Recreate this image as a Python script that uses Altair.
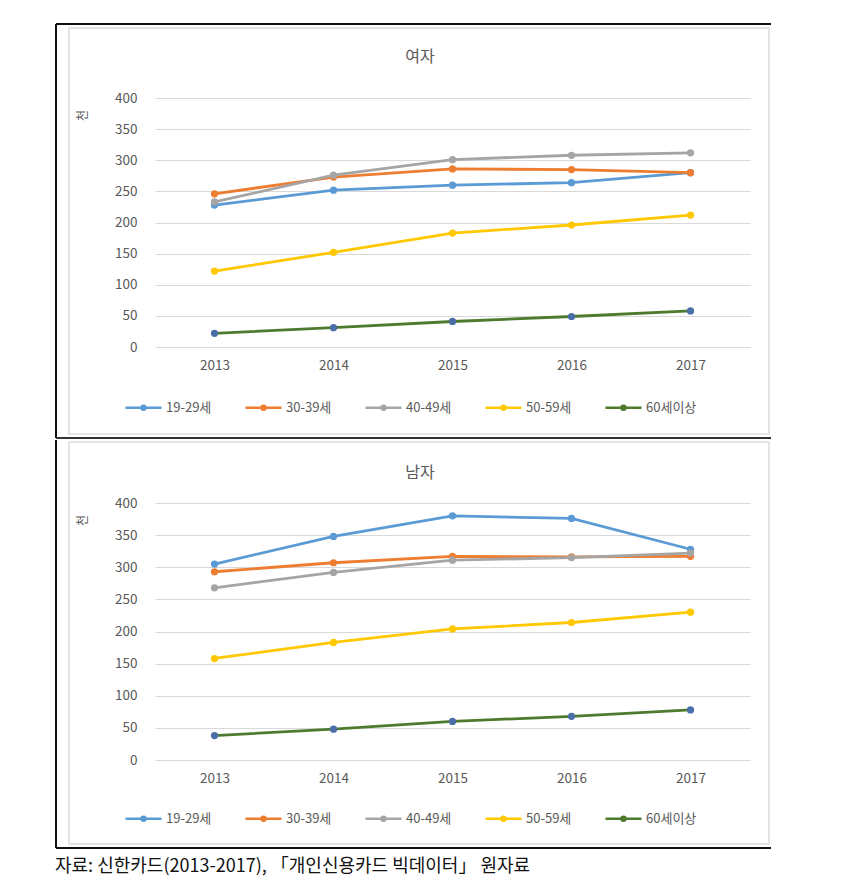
import altair as alt
import pandas as pd

years = ["2013", "2014", "2015", "2016", "2017"]
groups = ["19-29세", "30-39세", "40-49세", "50-59세", "60세이상"]

# 여자 (천)
female_19_29 = [228, 252, 260, 264, 280]
female_30_39 = [246, 273, 286, 285, 280]
female_40_49 = [233, 276, 301, 308, 312]
female_50_59 = [122, 152, 183, 196, 212]
female_60p = [22, 31, 41, 49, 58]

# 남자 (천)
male_19_29 = [305, 348, 380, 376, 328]
male_30_39 = [293, 307, 317, 316, 317]
male_40_49 = [268, 292, 311, 315, 322]
male_50_59 = [158, 183, 204, 214, 230]
male_60p = [38, 48, 60, 68, 78]

y_ticks = [0, 50, 100, 150, 200, 250, 300, 350, 400]
line_colors = ["#5B9BD5", "#ED7D31", "#A5A5A5", "#FFC800", "#4E7A2E"]
marker_colors = ["#5B9BD5", "#ED7D31", "#A5A5A5", "#FFC800", "#4A6EA8"]

FONT = "Noto Sans CJK KR"
GREY = "#595959"
LEGEND_PATH = "M-1,0H1M-0.11,0A0.11,0.11,0,1,0,0.11,0A0.11,0.11,0,1,0,-0.11,0Z"


def make_df(series_list):
    rows = []
    for g, vals in zip(groups, series_list):
        for yr, v in zip(years, vals):
            rows.append({"year": yr, "group": g, "value": v})
    return pd.DataFrame(rows)


df_f = make_df([female_19_29, female_30_39, female_40_49, female_50_59, female_60p])
df_m = make_df([male_19_29, male_30_39, male_40_49, male_50_59, male_60p])
one = pd.DataFrame({"a": [0]})


def legend(ly):
    return alt.Legend(
        orient="none", legendX=-31, legendY=ly, direction="horizontal", title=None,
        symbolType=LEGEND_PATH, symbolSize=1296, symbolStrokeWidth=2.5,
        labelFont=FONT, labelFontSize=13, labelColor=GREY, labelOffset=3,
        columnPadding=28,
    )


def rule(x1, x2, y1, y2, color, w):
    enc = {"x": alt.value(x1), "y": alt.value(y1)}
    if x2 is not None:
        enc["x2"] = alt.value(x2)
    if y2 is not None:
        enc["y2"] = alt.value(y2)
    return alt.Chart(one).mark_rule(color=color, strokeWidth=w).encode(**enc)


def panel(df, title, h, title_y, legend_y, frame_layers):
    x = alt.X("year:O", sort=years, scale=alt.Scale(type="point", padding=0.5),
              axis=alt.Axis(title=None, labelAngle=0, domain=False, ticks=False, grid=False,
                            labelPadding=11, labelFontSize=13.5, labelColor=GREY, labelFont=FONT))
    y = alt.Y("value:Q", scale=alt.Scale(domain=[0, 400], nice=False),
              axis=alt.Axis(values=y_ticks, title="천", titleX=-73, titleY=17,
                            titleFont=FONT, titleFontSize=12, titleColor=GREY,
                            titleFontWeight="normal", titleAlign="center", titleBaseline="middle",
                            domain=False, ticks=False, labelPadding=18, labelFontSize=13.5,
                            labelColor=GREY, labelFont=FONT, gridColor="#D9D9D9", gridWidth=1))
    lines = alt.Chart(df).mark_line(strokeWidth=2.8).encode(
        x=x, y=y,
        stroke=alt.Stroke("group:N", sort=groups,
                          scale=alt.Scale(domain=groups, range=line_colors), legend=legend(legend_y)),
    )
    points = alt.Chart(df).mark_circle(size=52, opacity=1).encode(
        x=x, y=y,
        fill=alt.Fill("group:N", sort=groups,
                      scale=alt.Scale(domain=groups, range=marker_colors), legend=legend(legend_y)),
    )
    ttl = alt.Chart(one).mark_text(text=title, font=FONT, fontSize=16, color=GREY,
                                   align="center", baseline="middle").encode(
        x=alt.value(265), y=alt.value(title_y))
    return alt.layer(*frame_layers, lines, points, ttl).properties(width=595, height=h)


frame1 = [
    alt.Chart(one).mark_rect(fill="transparent", stroke="#DCDCDC", strokeWidth=1.5).encode(
        x=alt.value(-86), x2=alt.value(614), y=alt.value(-70), y2=alt.value(336)),
    rule(-99, 616, -74, None, "#111111", 2),
    rule(-99, None, -74, 340, "#111111", 2),
    rule(-99, 616, 340, None, "#333333", 2),
]
frame2 = [
    alt.Chart(one).mark_rect(fill="transparent", stroke="#DCDCDC", strokeWidth=1.5).encode(
        x=alt.value(-86), x2=alt.value(614), y=alt.value(-61), y2=alt.value(341)),
    rule(-99, None, -63, 345, "#111111", 2),
    rule(-99, 616, 345, None, "#111111", 2),
    alt.Chart(one).mark_text(text="자료: 신한카드(2013-2017), 「개인신용카드 빅데이터」 원자료",
                             font=FONT, fontSize=18, color="#111111",
                             align="left", baseline="middle").encode(
        x=alt.value(-100), y=alt.value(364)),
]

p1 = panel(df_f, "여자", 249, -41, 290, frame1)
p2 = panel(df_m, "남자", 257, -30, 296, frame2)

chart = alt.vconcat(p1, p2, spacing=0).resolve_scale(
    stroke="independent", fill="independent"
).resolve_legend(
    stroke="independent", fill="independent"
).properties(
    padding={"left": 47, "top": 15, "right": 10, "bottom": 5},
    background="white",
).configure_view(stroke=None)

chart.save("out.html", embed_options={"renderer": "svg", "actions": False})
